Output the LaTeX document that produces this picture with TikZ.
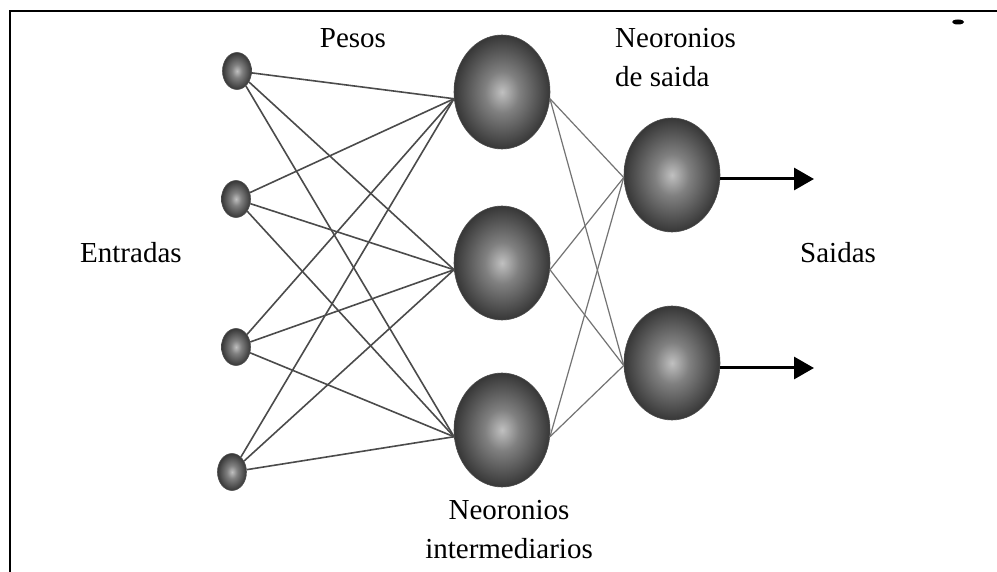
\documentclass[tikz,border=0pt]{standalone}
\usepackage{fontspec}
\setmainfont{Liberation Serif}
\usetikzlibrary{shapes.geometric,arrows.meta}
\definecolor{sphA}{RGB}{192,192,192}
\definecolor{sphB}{RGB}{128,128,128}
\definecolor{sphC}{RGB}{55,55,55}
\definecolor{wireA}{RGB}{75,75,75}
\definecolor{wireB}{RGB}{115,115,115}
\pgfdeclareradialshading{sphere}{\pgfpoint{0bp}{0bp}}{color(0bp)=(sphA); color(9bp)=(sphB); color(25bp)=(sphC); color(50bp)=(sphC)}
\tikzset{
  bigball/.style={ellipse, inner sep=0pt, minimum width=96pt, minimum height=114pt, shading=sphere, draw=black!70, line width=0.6pt},
  smallball/.style={ellipse, inner sep=0pt, minimum width=29pt, minimum height=37pt, shading=sphere, draw=black!70, line width=0.6pt},
  wirein/.style={draw=wireA, line width=1.6pt},
  wireout/.style={draw=wireB, line width=1.2pt},
  outarrow/.style={line width=3pt, -{Triangle[length=20pt,width=22pt]}},
  lbl/.style={font=\fontsize{29}{39}\selectfont, inner sep=0pt},
}
\begin{document}
\begin{tikzpicture}[x=1pt,y=-1pt]
\useasboundingbox (0,0) rectangle (997,572);
\fill[white] (0,0) rectangle (997,572);
% frame
\draw[line width=2.5pt] (10,572) -- (10,11) -- (997,11);
\fill[black] (958,22) ellipse [x radius=6, y radius=2.5];
% input nodes
\node[smallball] (i1) at (237,71) {};
\node[smallball] (i2) at (236,199) {};
\node[smallball] (i3) at (236,347) {};
\node[smallball] (i4) at (232,472) {};
% hidden nodes
\node[bigball] (h1) at (502,92) {};
\node[bigball] (h2) at (502,263) {};
\node[bigball] (h3) at (502,430) {};
% output nodes
\node[bigball] (o1) at (672,175) {};
\node[bigball] (o2) at (672,363) {};
% connections
\foreach \i in {1,...,4}
  \foreach \h in {1,2,3}
    \draw[wirein] (i\i) -- (h\h.188);
\foreach \h in {1,2,3}
  \foreach \o in {1,2}
    \draw[wireout] (h\h.352) -- (o\o.183);
% outputs
\coordinate (a1) at (814,179);
\coordinate (a2) at (814,368);
\draw[outarrow] (a1 -| o1.east) -- (a1);
\draw[outarrow] (a2 -| o2.east) -- (a2);
% labels
\node[lbl, anchor=base] (pesos) at (353,48) {Pesos};
\node[lbl, anchor=base west, align=left] (nsal) at (615,87) {Neoronios\\de saida};
\node[lbl, anchor=base west] (ent) at (80,263) {Entradas};
\node[lbl, anchor=base west] (sal) at (800,263) {Saidas};
\node[lbl, anchor=base, align=center] (nint) at (509,558) {Neoronios\\intermediarios};
\end{tikzpicture}
\end{document}
